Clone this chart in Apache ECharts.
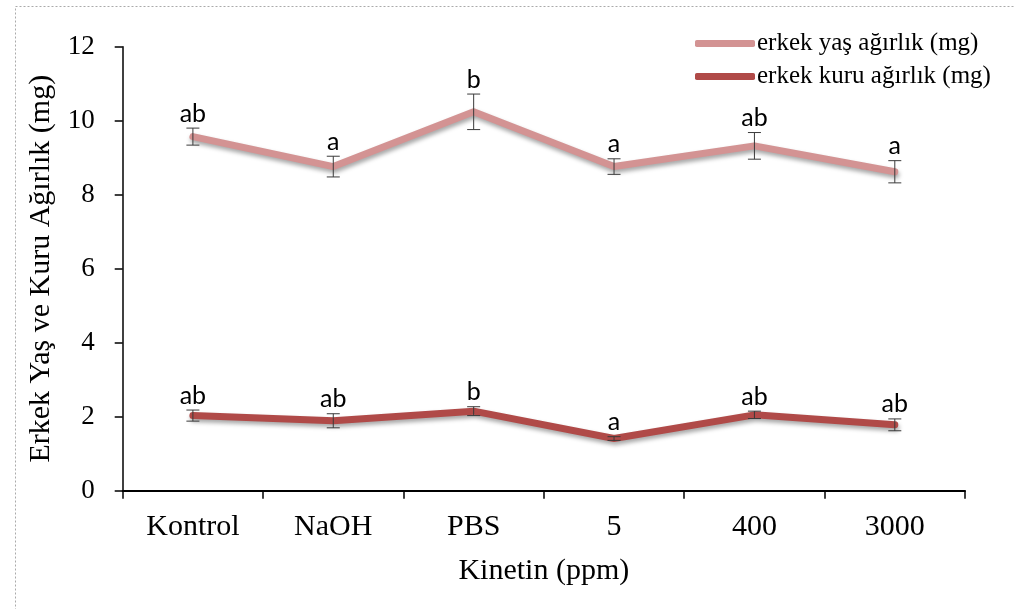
<!DOCTYPE html>
<html>
<head>
<meta charset="utf-8">
<script src="https://cdn.jsdelivr.net/npm/echarts@6/dist/echarts.min.js"></script>
<style>html,body{margin:0;padding:0;background:#fff}#c{width:1014px;height:609px}</style>
</head>
<body>
<div id="c"></div>
<script>
var categories = ['Kontrol', 'NaOH', 'PBS', '5', '400', '3000'];
var wetMean = [9.57, 8.76, 10.24, 8.76, 9.32, 8.62];
var wetErr = [0.23, 0.28, 0.48, 0.21, 0.36, 0.30];
var wetLetters = ['ab', 'a', 'b', 'a', 'ab', 'a'];
var dryMean = [2.03, 1.89, 2.15, 1.41, 2.05, 1.78];
var dryErr = [0.15, 0.19, 0.12, 0.05, 0.10, 0.16];
var dryLetters = ['ab', 'ab', 'b', 'a', 'ab', 'ab'];
var yTicks = { min: 0, max: 12, interval: 2 };
var wetName = 'erkek yaş ağırlık (mg)';
var dryName = 'erkek kuru ağırlık (mg)';

var serif = "'Liberation Serif', 'Times New Roman', serif";
var sans = "Lato, 'Noto Sans', sans-serif";

function errData(means, errs) {
  return means.map(function (m, i) { return [i, m, errs[i]]; });
}
function errRender(letters) {
  return function (params, api) {
    var i = api.value(0), m = api.value(1), e = api.value(2);
    var top = api.coord([i, m + e]);
    var bot = api.coord([i, m - e]);
    var hw = 6.5;
    return {
      type: 'group',
      children: [
        { type: 'line', shape: { x1: top[0], y1: top[1], x2: bot[0], y2: bot[1] }, style: { stroke: '#3a3a3a', lineWidth: 1 } },
        { type: 'line', shape: { x1: top[0] - hw, y1: top[1], x2: top[0] + hw, y2: top[1] }, style: { stroke: '#3a3a3a', lineWidth: 1 } },
        { type: 'line', shape: { x1: bot[0] - hw, y1: bot[1], x2: bot[0] + hw, y2: bot[1] }, style: { stroke: '#3a3a3a', lineWidth: 1 } },
        { type: 'text', style: { text: letters[params.dataIndex], x: top[0], y: top[1] - 2, textAlign: 'center', textVerticalAlign: 'bottom', font: '25px ' + sans, fill: '#000' } }
      ]
    };
  };
}

var chart = echarts.init(document.getElementById('c'), null, { renderer: 'canvas' });
chart.setOption({
  animation: false,
  backgroundColor: '#fff',
  graphic: [{
    type: 'rect', left: 13, top: 4, shape: { width: 1100, height: 700 },
    style: { fill: 'none', stroke: '#aaa', lineWidth: 1, lineDash: [2, 2] }, silent: true
  }],
  grid: { left: 122.7, right: 49, top: 46.7, bottom: 118.3, containLabel: false },
  legend: {
    orient: 'vertical', left: 690, top: 26, itemWidth: 60, itemHeight: 7, itemGap: 8,
    textStyle: { fontFamily: serif, fontSize: 25, color: '#000', padding: [0, 0, 0, -3] },
    data: [{ name: wetName, icon: 'roundRect' }, { name: dryName, icon: 'roundRect' }]
  },
  xAxis: {
    type: 'category', data: categories, boundaryGap: true,
    axisLine: { lineStyle: { color: '#000', width: 2 } },
    axisTick: { show: true, length: 8, lineStyle: { color: '#000', width: 1.5 } },
    axisLabel: { margin: 21, fontFamily: serif, fontSize: 30, color: '#000' },
    name: 'Kinetin (ppm)', nameLocation: 'middle', nameGap: 65,
    nameTextStyle: { fontFamily: serif, fontSize: 30, color: '#000' }
  },
  yAxis: {
    type: 'value', min: yTicks.min, max: yTicks.max, interval: yTicks.interval,
    axisLine: { show: true, lineStyle: { color: '#000', width: 1.5 } },
    axisTick: { show: true, length: 8, lineStyle: { color: '#000', width: 1.5 } },
    splitLine: { show: false },
    axisLabel: { margin: 28, fontFamily: serif, fontSize: 27, color: '#000' },
    name: 'Erkek Yaş ve Kuru Ağırlık (mg)', nameLocation: 'middle', nameGap: 67,
    nameTextStyle: { fontFamily: serif, fontSize: 30, color: '#000' }
  },
  series: [
    {
      name: wetName, type: 'line', data: wetMean, symbol: 'none', z: 2,
      itemStyle: { color: '#d39393' },
      lineStyle: { color: '#d39393', width: 7, cap: 'round', join: 'round', shadowColor: 'rgba(0,0,0,0.35)', shadowBlur: 4, shadowOffsetY: 3, shadowOffsetX: 1 }
    },
    {
      name: dryName, type: 'line', data: dryMean, symbol: 'none', z: 2,
      itemStyle: { color: '#b04a48' },
      lineStyle: { color: '#b04a48', width: 7, cap: 'round', join: 'round', shadowColor: 'rgba(0,0,0,0.35)', shadowBlur: 4, shadowOffsetY: 3, shadowOffsetX: 1 }
    },
    { type: 'custom', data: errData(wetMean, wetErr), renderItem: errRender(wetLetters), z: 5, silent: true },
    { type: 'custom', data: errData(dryMean, dryErr), renderItem: errRender(dryLetters), z: 5, silent: true }
  ]
});
</script>
</body>
</html>
